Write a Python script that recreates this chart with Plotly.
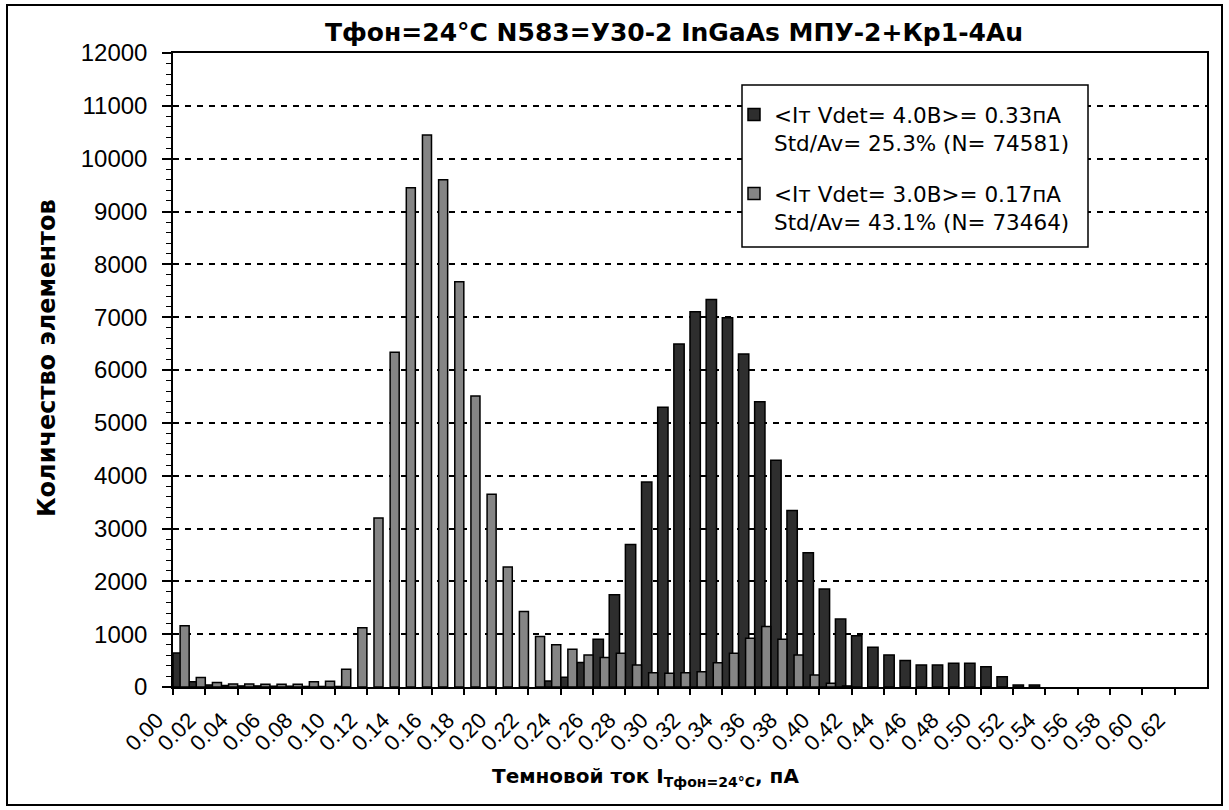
import plotly.graph_objects as go

# ---- data ----
categories = [
    "0.00", "0.01", "0.02", "0.03", "0.04", "0.05", "0.06", "0.07", "0.08", "0.09",
    "0.10", "0.11", "0.12", "0.13", "0.14", "0.15", "0.16", "0.17", "0.18", "0.19",
    "0.20", "0.21", "0.22", "0.23", "0.24", "0.25", "0.26", "0.27", "0.28", "0.29",
    "0.30", "0.31", "0.32", "0.33", "0.34", "0.35", "0.36", "0.37", "0.38", "0.39",
    "0.40", "0.41", "0.42", "0.43", "0.44", "0.45", "0.46", "0.47", "0.48", "0.49",
    "0.50", "0.51", "0.52", "0.53", "0.54", "0.55", "0.56", "0.57", "0.58", "0.59",
    "0.60", "0.61", "0.62", "0.63",
]

# <Iт Vdet=4.0В> series (dark bars)
counts_4v = [
    645, 100, 40, 30, 20, 20, 15, 15, 10, 10,
    10, 0, 0, 0, 0, 0, 0, 0, 0, 0,
    0, 0, 0, 114, 184, 462, 905, 1747, 2697, 3880,
    5297, 6493, 7101, 7336, 6988, 6305, 5399, 4292, 3342, 2539,
    1855, 1285, 968, 753, 608, 500, 418, 418, 450, 450,
    385, 196, 38, 38, 0, 0, 0, 0, 0, 0,
    0, 0, 0, 0,
]

# <Iт Vdet=3.0В> series (grey bars)
counts_3v = [
    1158, 180, 85, 55, 55, 50, 50, 50, 100, 110,
    336, 1120, 3200, 6335, 9450, 10450, 9600, 7670, 5510, 3646,
    2272, 1431, 956, 798, 715, 608, 557, 640, 418, 272,
    260, 272, 290, 460, 640, 924, 1145, 905, 608, 228,
    70, 20, 0, 0, 0, 0, 0, 0, 0, 0,
    0, 0, 0, 0, 0, 0, 0, 0, 0, 0,
    0, 0, 0, 0,
]

tick_labels = categories[::2]
y_ticks = [0, 1000, 2000, 3000, 4000, 5000, 6000, 7000, 8000, 9000, 10000, 11000, 12000]
y_tick_text = ["0", "1000", "2000", "3000", "4000", "5000", "6000", "7000",
               "8000", "9000", "10000", "11000", "12000"]

name_4v = "&lt;Iт Vdet= 4.0В&gt;= 0.33пА<br>Std/Av= 25.3% (N= 74581)"
name_3v = "&lt;Iт Vdet= 3.0В&gt;= 0.17пА<br>Std/Av= 43.1% (N= 73464)"

title_text = "<b>Тфон=24°C N583=У30-2 InGaAs МПУ-2+Кр1-4Au</b>"
x_title = "<b>Темновой ток I<sub>Тфон=24°C</sub>, пА</b>"
y_title = "<b>Количество элементов</b>"

# ---- figure ----
x_idx = list(range(len(categories)))

def nz(values):
    # empty bins are simply not drawn
    return [v if v > 0 else None for v in values]

fig = go.Figure()
fig.add_trace(go.Bar(
    x=x_idx, y=nz(counts_4v), offset=-0.5, width=0.64,
    marker=dict(color="#2e2e2e", line=dict(color="black", width=1.5)),
    name=name_4v, legendgroup="a",
))
fig.add_trace(go.Bar(
    x=x_idx, y=nz(counts_3v), offset=-0.06, width=0.56,
    marker=dict(color="#858585", line=dict(color="black", width=1.5)),
    name=name_3v, legendgroup="b",
))

L, R, T, B = 173, 22, 53, 123
W, H = 1229, 810
pw, ph = W - L - R, H - T - B

def px_x(px):
    return (px - L) / pw

def px_y(py):
    return (H - B - py) / ph

fig.update_layout(
    width=W, height=H, autosize=False,
    margin=dict(l=L, r=R, t=T, b=B, pad=0),
    paper_bgcolor="white", plot_bgcolor="white",
    barmode="overlay",
    font=dict(family="Liberation Sans, Arial, sans-serif", color="black"),
    showlegend=True,
    legend=dict(
        x=px_x(734), y=px_y(94), xanchor="left", yanchor="top",
        bgcolor="rgba(0,0,0,0)", borderwidth=0,
        font=dict(family="DejaVu Sans", size=21.5, color="black"),
        traceorder="grouped", tracegroupgap=20, valign="top",
    ),
    xaxis=dict(
        range=[-0.5, len(categories) - 0.5],
        tickmode="array",
        tickvals=[i - 0.5 for i in x_idx[::2]],
        ticktext=tick_labels,
        tickangle=-45,
        ticks="outside", ticklen=6, tickwidth=1.5, tickcolor="black",
        tickfont=dict(family="Liberation Sans", size=22, color="black"),
        ticklabelshift=-16, ticklabelstandoff=4,
        showline=True, linecolor="black", linewidth=1.5, mirror=True,
        showgrid=False, zeroline=False,
    ),
    yaxis=dict(
        range=[0, 12000],
        tickmode="array", tickvals=y_ticks, ticktext=y_tick_text,
        ticks="outside", ticklen=9, tickwidth=1.5, tickcolor="black",
        minor=dict(dtick=200, ticks="outside", ticklen=5, tickwidth=1, tickcolor="black", showgrid=False),
        tickfont=dict(family="Liberation Sans", size=24, color="black"),
        ticklabelstandoff=10,
        showline=True, linecolor="black", linewidth=1.5, mirror=True,
        showgrid=True, gridcolor="black", gridwidth=2, griddash="6px,6px",
        zeroline=False,
    ),
    annotations=[
        dict(text=title_text, xref="paper", yref="paper", x=px_x(674), y=px_y(33),
             xanchor="center", yanchor="middle", showarrow=False,
             font=dict(family="DejaVu Sans", size=25, color="black")),
        dict(text=x_title, xref="paper", yref="paper", x=px_x(645), y=px_y(777),
             xanchor="center", yanchor="middle", showarrow=False,
             font=dict(family="DejaVu Sans", size=20, color="black")),
        dict(text=y_title, xref="paper", yref="paper", x=px_x(47), y=px_y(358),
             xanchor="center", yanchor="middle", showarrow=False, textangle=-90,
             font=dict(family="DejaVu Sans", size=24, color="black")),
    ],
    shapes=[
        # outer chart frame
        dict(type="rect", xref="paper", yref="paper",
             x0=px_x(7), x1=px_x(1222), y0=px_y(805), y1=px_y(5),
             line=dict(color="black", width=2), fillcolor="rgba(0,0,0,0)", layer="below"),
        # legend box
        dict(type="rect", xref="paper", yref="paper",
             x0=px_x(742), x1=px_x(1088), y0=px_y(247), y1=px_y(85),
             line=dict(color="black", width=1.5), fillcolor="white", layer="above"),
    ],
)

fig.write_html("out.html")
